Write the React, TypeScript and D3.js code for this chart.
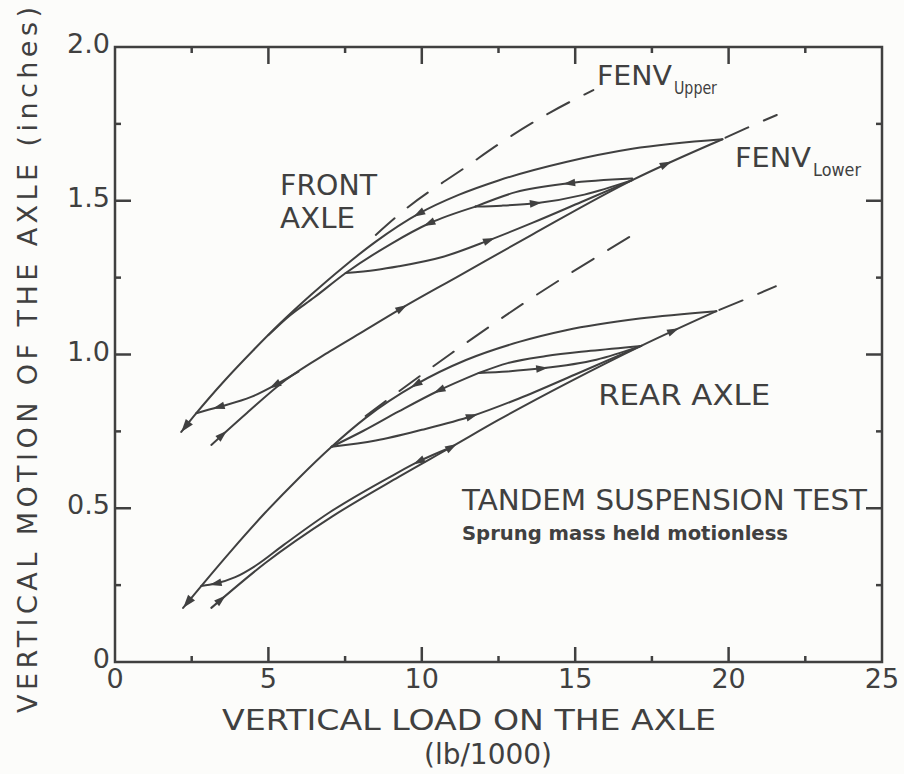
import React, { useEffect, useRef, useState } from "react";
import * as d3 from "d3";

// ---------- axis definitions ----------
const xDomain = [0, 25];
const yDomain = [0, 2];
const xMajorTicks = [5, 10, 15, 20];
const xMinorTicks = [2.5, 7.5, 12.5, 17.5, 22.5];
const xTickValues = [0, 5, 10, 15, 20, 25];
const xTickLabels = ["0", "5", "10", "15", "20", "25"];
const yMajorTicks = [0.5, 1.0, 1.5];
const yMinorTicks = [0.25, 0.75, 1.25, 1.75];
const yTickValues = [0, 0.5, 1.0, 1.5, 2.0];
const yTickLabels = ["0", "0.5", "1.0", "1.5", "2.0"];

// ---------- FRONT AXLE curves (load lb/1000, motion in) ----------
const frontUpper = [[19.8, 1.70], [16.86, 1.669], [14.7, 1.626], [12.5, 1.566], [11.2, 1.519], [9.9, 1.458], [8.5, 1.367], [7.39, 1.28], [6.4, 1.195], [5.4, 1.103], [4.5, 1.013], [3.59, 0.917], [2.65, 0.809], [2.16, 0.748]];
const frontSecond = [[11.75, 1.481], [10.23, 1.426], [9.0, 1.36], [7.52, 1.265], [6.5, 1.186], [5.7, 1.127], [5.0, 1.063]];
const frontInner = [[7.52, 1.265], [8.5, 1.275], [9.25, 1.287], [10.7, 1.318], [12.2, 1.372], [13.6, 1.428], [15.2, 1.496], [16.86, 1.567]];
const frontLoad = [[3.14, 0.706], [4.3, 0.81], [5.56, 0.917], [7.0, 1.01], [8.17, 1.08], [9.35, 1.151], [11.2, 1.255], [13.6, 1.39], [16.86, 1.567], [19.8, 1.70]];
const frontSmallUpper = [[11.75, 1.481], [13.06, 1.528], [14.8, 1.557], [16.86, 1.572]];
const frontSmallLower = [[11.75, 1.481], [12.6, 1.484], [13.72, 1.492], [15.3, 1.52], [16.86, 1.567]];
const frontHook = [[2.65, 0.809], [3.37, 0.829], [4.44, 0.862], [5.3, 0.905], [5.98, 0.944]];
const fenvUpperFront = [[8.5, 1.389], [9.51, 1.476], [11.44, 1.61], [12.61, 1.691], [14.15, 1.785], [15.59, 1.86]];
const fenvLowerFront = [[19.9, 1.705], [20.6, 1.737], [21.57, 1.779]];

// ---------- REAR AXLE curves ----------
const rearUpper = [[19.6, 1.141], [17.1, 1.117], [14.7, 1.079], [13.17, 1.041], [11.44, 0.982], [9.8, 0.902], [8.17, 0.794], [7.06, 0.70], [5.98, 0.597], [4.9, 0.486], [3.85, 0.369], [2.81, 0.247], [2.22, 0.176]];
const rearSecond = [[11.86, 0.94], [10.56, 0.883], [9.25, 0.815], [8.1, 0.752], [7.06, 0.70]];
const rearInner = [[7.06, 0.70], [8.5, 0.72], [10.0, 0.755], [11.64, 0.80], [13.17, 0.857], [15.0, 0.935], [17.15, 1.028]];
const rearLoad = [[3.14, 0.176], [4.9, 0.322], [7.06, 0.472], [9.25, 0.602], [10.98, 0.70], [12.5, 0.787], [14.8, 0.91], [17.15, 1.028], [19.6, 1.141]];
const rearSmallUpper = [[11.86, 0.94], [12.8, 0.972], [14.05, 0.995], [15.5, 1.012], [17.15, 1.028]];
const rearSmallLower = [[11.86, 0.94], [12.8, 0.945], [13.92, 0.955], [15.69, 0.983], [17.15, 1.028]];
const rearHook = [[2.81, 0.247], [3.27, 0.255], [3.92, 0.276], [4.58, 0.313], [5.5, 0.381], [7.0, 0.487], [9.0, 0.604], [10.0, 0.657], [10.9, 0.696]];
const fenvUpperRear = [[8.17, 0.80], [10.98, 1.005], [13.33, 1.167], [16.76, 1.382]];
const fenvLowerRear = [[19.7, 1.145], [20.6, 1.182], [21.54, 1.222]];

const curveList: [string, number[][], boolean][] = [
  ["frontUpper", frontUpper, false],
  ["frontSecond", frontSecond, false],
  ["frontInner", frontInner, false],
  ["frontLoad", frontLoad, false],
  ["frontSmallUpper", frontSmallUpper, false],
  ["frontSmallLower", frontSmallLower, false],
  ["frontHook", frontHook, false],
  ["fenvUpperFront", fenvUpperFront, true],
  ["fenvLowerFront", fenvLowerFront, true],
  ["rearUpper", rearUpper, false],
  ["rearSecond", rearSecond, false],
  ["rearInner", rearInner, false],
  ["rearLoad", rearLoad, false],
  ["rearSmallUpper", rearSmallUpper, false],
  ["rearSmallLower", rearSmallLower, false],
  ["rearHook", rearHook, false],
  ["fenvUpperRear", fenvUpperRear, true],
  ["fenvLowerRear", fenvLowerRear, true],
];

// arrowheads: [curve, load value, direction along array, tip-at-end]
const arrowList: [string, number, number, boolean][] = [
  ["frontUpper", 9.9, 1, false],
  ["frontUpper", 2.16, 1, true],
  ["frontSecond", 10.23, 1, false],
  ["frontInner", 12.2, 1, false],
  ["frontSmallUpper", 14.8, -1, false],
  ["frontSmallLower", 13.72, 1, false],
  ["frontLoad", 3.5, 1, false],
  ["frontLoad", 9.35, 1, false],
  ["frontLoad", 17.97, 1, false],
  ["frontHook", 3.37, -1, false],
  ["frontHook", 5.2, -1, false],
  ["rearUpper", 9.8, 1, false],
  ["rearUpper", 2.22, 1, true],
  ["rearSecond", 10.56, 1, false],
  ["rearInner", 11.64, 1, false],
  ["rearSmallLower", 13.92, 1, false],
  ["rearLoad", 3.46, 1, false],
  ["rearLoad", 10.98, 1, false],
  ["rearLoad", 18.2, 1, false],
  ["rearHook", 3.27, -1, false],
  ["rearHook", 9.9, -1, false],
];

// annotations: [text, load, motion, width px, font size, weight]
const notes: [string, number, number, number, number, number][] = [
  ["FRONT", 5.38, 1.519, 97, 28, 400],
  ["AXLE", 5.38, 1.412, 75, 28, 400],
  ["REAR AXLE", 15.75, 0.836, 172, 28, 400],
  ["TANDEM SUSPENSION TEST", 11.31, 0.494, 405, 28, 400],
  ["Sprung mass held motionless", 11.31, 0.396, 326, 20, 700],
];
const fenvNotes: [string, string, number, number, number, number][] = [
  ["FENV", "Upper", 15.71, 1.876, 75, 43],
  ["FENV", "Lower", 20.21, 1.61, 76, 48],
];

const INK = "#404040";
const FONT = "'DejaVu Sans', 'Liberation Sans', sans-serif";

export default function App() {
  const x = d3.scaleLinear().domain(xDomain).range([115, 882]);
  const y = d3.scaleLinear().domain(yDomain).range([662, 47]);
  const line = d3
    .line<number[]>()
    .x((d) => x(d[0]))
    .y((d) => y(d[1]))
    .curve(d3.curveMonotoneX);

  const refs = useRef<Record<string, SVGPathElement | null>>({});
  const [heads, setHeads] = useState<{ x: number; y: number; a: number; big: boolean }[]>([]);

  useEffect(() => {
    const out: { x: number; y: number; a: number; big: boolean }[] = [];
    for (const [key, xv, dir, big] of arrowList) {
      const p = refs.current[key];
      if (!p) continue;
      const L = p.getTotalLength();
      const tx = x(xv);
      let best = 0;
      let bd = Infinity;
      for (let l = 0; l <= L; l += 0.5) {
        const pt = p.getPointAtLength(l);
        const d = Math.abs(pt.x - tx);
        if (d < bd) {
          bd = d;
          best = l;
        }
      }
      const p0 = p.getPointAtLength(Math.max(0, best - 3));
      const p1 = p.getPointAtLength(Math.min(L, best + 3));
      let a = (Math.atan2(p1.y - p0.y, p1.x - p0.x) * 180) / Math.PI;
      if (dir < 0) a += 180;
      const c = p.getPointAtLength(best);
      out.push({ x: c.x, y: c.y, a, big });
    }
    setHeads(out);
  }, []);

  const x0 = x(xDomain[0]);
  const x1 = x(xDomain[1]);
  const y0 = y(yDomain[0]);
  const y1 = y(yDomain[1]);

  return (
    <svg
      width={904}
      height={774}
      style={{ position: "absolute", left: 0, top: 0, background: "#fcfcfa" }}
      fontFamily={FONT}
    >
      <rect x={0} y={0} width={904} height={774} fill="#fcfcfa" />
      {/* frame */}
      <rect x={x0} y={y1} width={x1 - x0} height={y0 - y1} fill="none" stroke={INK} strokeWidth={2.5} />
      {/* x ticks bottom & top */}
      {xMajorTicks.map((t) => (
        <g key={"xm" + t}>
          <line x1={x(t)} x2={x(t)} y1={y0} y2={y0 - 15} stroke={INK} strokeWidth={2.5} />
          <line x1={x(t)} x2={x(t)} y1={y1} y2={y1 + 17} stroke={INK} strokeWidth={2.5} />
        </g>
      ))}
      {xMinorTicks.map((t) => (
        <g key={"xn" + t}>
          <line x1={x(t)} x2={x(t)} y1={y0} y2={y0 - 6} stroke={INK} strokeWidth={2.5} />
          <line x1={x(t)} x2={x(t)} y1={y1} y2={y1 + 6} stroke={INK} strokeWidth={2.5} />
        </g>
      ))}
      {yMajorTicks.map((t) => (
        <g key={"ym" + t}>
          <line x1={x0} x2={x0 + 16} y1={y(t)} y2={y(t)} stroke={INK} strokeWidth={2.5} />
          <line x1={x1} x2={x1 - 16} y1={y(t)} y2={y(t)} stroke={INK} strokeWidth={2.5} />
        </g>
      ))}
      {yMinorTicks.map((t) => (
        <g key={"yn" + t}>
          <line x1={x0} x2={x0 + 6} y1={y(t)} y2={y(t)} stroke={INK} strokeWidth={2.5} />
          <line x1={x1} x2={x1 - 6} y1={y(t)} y2={y(t)} stroke={INK} strokeWidth={2.5} />
        </g>
      ))}
      {/* tick labels */}
      {xTickValues.map((t, i) => (
        <text key={"xl" + t} x={x(t)} y={688} fontSize={27} fill={INK} textAnchor="middle">
          {xTickLabels[i]}
        </text>
      ))}
      {yTickValues.map((t, i) => (
        <text key={"yl" + t} x={x0 - 5} y={y(t) + 6} fontSize={27} fill={INK} textAnchor="end">
          {yTickLabels[i]}
        </text>
      ))}
      {/* axis titles */}
      <text x={222} y={730} fontSize={28} fill={INK} textLength={494} lengthAdjust="spacingAndGlyphs">
        VERTICAL LOAD ON THE AXLE
      </text>
      <text x={488} y={764} fontSize={28} fill={INK} textAnchor="middle">
        (lb/1000)
      </text>
      <text
        transform="translate(37,713) rotate(-90)"
        fontSize={27}
        fill={INK}
        textLength={706}
        lengthAdjust="spacing"
      >
        VERTICAL MOTION OF THE AXLE (inches)
      </text>
      {/* curves */}
      {curveList.map(([key, pts, dashed]) => (
        <path
          key={key}
          ref={(el) => {
            refs.current[key] = el;
          }}
          d={line(pts) || ""}
          fill="none"
          stroke={INK}
          strokeWidth={2}
          strokeDasharray={dashed ? "25 17" : undefined}
          strokeLinecap="round"
        />
      ))}
      {/* arrowheads */}
      {heads.map((h, i) => (
        <polygon
          key={"a" + i}
          points={h.big ? "0,0 -13,-4.5 -13,4.5" : "6,0 -6,-3.8 -6,3.8"}
          transform={`translate(${h.x},${h.y}) rotate(${h.a})`}
          fill={INK}
        />
      ))}
      {/* annotations */}
      {notes.map(([t, lx, ly, w, fs, fw]) => (
        <text
          key={t}
          x={x(lx)}
          y={y(ly)}
          fontSize={fs}
          fontWeight={fw}
          fill={INK}
          textLength={w}
          lengthAdjust="spacingAndGlyphs"
        >
          {t}
        </text>
      ))}
      {fenvNotes.map(([t, sub, lx, ly, w, sw]) => (
        <g key={sub}>
          <text x={x(lx)} y={y(ly)} fontSize={26} fill={INK} textLength={w} lengthAdjust="spacingAndGlyphs">
            {t}
          </text>
          <text
            x={x(lx) + w + 2}
            y={y(ly) + 9}
            fontSize={17}
            fill={INK}
            textLength={sw}
            lengthAdjust="spacingAndGlyphs"
          >
            {sub}
          </text>
        </g>
      ))}
    </svg>
  );
}
